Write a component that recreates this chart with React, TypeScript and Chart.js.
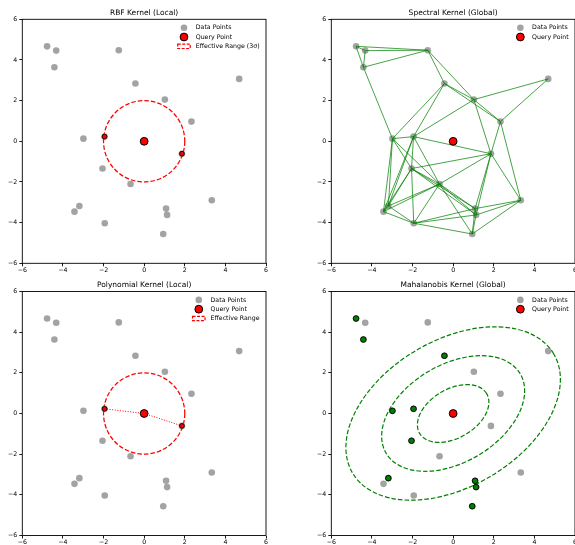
import React, { useEffect, useRef } from "react";
import { Chart, registerables } from "chart.js";

Chart.register(...registerables);

const FONT = "'DejaVu Sans', sans-serif";

// ---- data ----
const pointX = [-4.78, -4.33, -4.42, -1.25, -0.43, 1.02, 4.68, 2.33, -2.99, -1.95, 1.86, -2.05, -0.67, -3.19, -3.43, -1.94, 1.08, 1.13, 0.94, 3.33];
const pointY = [4.67, 4.46, 3.64, 4.48, 2.84, 2.05, 3.07, 0.97, 0.13, 0.23, -0.61, -1.34, -2.1, -3.18, -3.46, -4.03, -3.31, -3.62, -4.56, -2.9];
const queryX = [0];
const queryY = [0];
const localNeighborIdx = [9, 10];
const effectiveRadius = 2;
const spectralEdges = [
  [0, 1], [0, 2], [0, 3], [1, 2], [1, 3], [2, 3], [2, 8], [3, 4], [3, 5],
  [4, 5], [4, 7], [4, 8], [4, 9], [5, 6], [5, 7], [5, 9], [5, 10], [6, 7],
  [7, 10], [7, 19], [8, 9], [8, 11], [8, 12], [8, 13], [8, 14], [9, 10],
  [9, 11], [9, 12], [9, 13], [9, 14], [10, 11], [10, 12], [10, 16], [10, 17],
  [10, 19], [11, 12], [11, 13], [11, 14], [11, 15], [11, 16], [11, 17],
  [12, 13], [12, 14], [12, 15], [12, 16], [12, 17], [12, 18], [13, 14],
  [13, 15], [14, 15], [15, 16], [15, 17], [15, 18], [16, 17], [16, 18],
  [16, 19], [17, 18], [17, 19], [18, 19],
];
const mahalanobisIdx = [0, 2, 4, 8, 9, 11, 13, 16, 17, 18];
const mahalanobisLevels = [1, 2, 3];
const mahalanobisSemiAxes = [1.918, 1.2];
const mahalanobisAngleDeg = 30.6;
const axisTicks = [-6, -4, -2, 0, 2, 4, 6];
const panelTitles = [
  "RBF Kernel (Local)",
  "Spectral Kernel (Global)",
  "Polynomial Kernel (Local)",
  "Mahalanobis Kernel (Global)",
];
const labelData = "Data Points";
const labelQuery = "Query Point";
const labelRangeSigma = "Effective Range (3σ)";
const labelRange = "Effective Range";

// ---- styles ----
const GRAY = "rgba(128,128,128,0.72)";
const RED = "#ff0000";
const GREEN = "#008000";
const EDGE = "rgba(0,128,0,0.72)";

const allPts = () => pointX.map((x, i) => ({ x, y: pointY[i] }));
const pickPts = (idx: number[]) => idx.map((i) => ({ x: pointX[i], y: pointY[i] }));
const queryPts = () => queryX.map((x, i) => ({ x, y: queryY[i] }));

const grayDS = () => ({ data: allPts(), backgroundColor: GRAY, borderWidth: 0, pointRadius: 3.3, order: 10 });
const queryDS = () => ({ data: queryPts(), backgroundColor: RED, borderColor: "#000", borderWidth: 1, pointRadius: 3.9, order: 0 });
const neighborDS = () => ({ data: pickPts(localNeighborIdx), backgroundColor: RED, borderColor: "#000", borderWidth: 0.9, pointRadius: 2.4, order: 1 });

const edgeDS = () =>
  spectralEdges.map(([i, j]) => ({
    data: [{ x: pointX[i], y: pointY[i] }, { x: pointX[j], y: pointY[j] }],
    showLine: true,
    borderColor: EDGE,
    borderWidth: 1,
    pointRadius: 0,
    order: 5,
  }));

const dottedDS = () =>
  localNeighborIdx.map((i) => ({
    data: [{ x: queryX[0], y: queryY[0] }, { x: pointX[i], y: pointY[i] }],
    showLine: true,
    borderColor: RED,
    borderWidth: 1,
    borderDash: [1, 1.6],
    pointRadius: 0,
    order: 2,
  }));

const greenDS = () => ({ data: pickPts(mahalanobisIdx), backgroundColor: GREEN, borderColor: "#000", borderWidth: 0.9, pointRadius: 2.8, order: 1 });

const decorPlugin = {
  id: "decor",
  beforeDatasetsDraw(chart: any, _args: any, opts: any) {
    const { ctx, chartArea: a } = chart;
    const x = chart.scales.x, y = chart.scales.y;
    const sx = x.getPixelForValue(1) - x.getPixelForValue(0);
    const sy = y.getPixelForValue(0) - y.getPixelForValue(1);
    const cx = x.getPixelForValue(queryX[0]);
    const cy = y.getPixelForValue(queryY[0]);
    ctx.save();
    ctx.beginPath();
    ctx.rect(a.left, a.top, a.right - a.left, a.bottom - a.top);
    ctx.clip();
    if (opts.circle) {
      ctx.beginPath();
      ctx.ellipse(cx, cy, opts.circle * sx, opts.circle * sy, 0, 0, Math.PI * 2);
      ctx.setLineDash([4.6, 2]);
      ctx.lineWidth = 1.25;
      ctx.strokeStyle = RED;
      ctx.stroke();
    }
    if (opts.ellipses) {
      const th = (mahalanobisAngleDeg * Math.PI) / 180;
      for (const k of mahalanobisLevels) {
        ctx.save();
        ctx.translate(cx, cy);
        ctx.scale(sx, -sy);
        ctx.beginPath();
        ctx.ellipse(0, 0, k * mahalanobisSemiAxes[0], k * mahalanobisSemiAxes[1], th, 0, Math.PI * 2);
        ctx.restore();
        ctx.setLineDash([4.6, 2]);
        ctx.lineWidth = 1.2;
        ctx.strokeStyle = GREEN;
        ctx.stroke();
      }
    }
    ctx.restore();
  },
  afterDraw(chart: any, _args: any, opts: any) {
    const { ctx, chartArea: a } = chart;
    ctx.save();
    ctx.setLineDash([]);
    ctx.strokeStyle = "#000";
    ctx.lineWidth = 0.9;
    ctx.strokeRect(a.left, a.top, a.right - a.left, a.bottom - a.top);

    const entries = opts.legend || [];
    ctx.font = `6.25px ${FONT}`;
    let maxW = 0;
    for (const e of entries) maxW = Math.max(maxW, ctx.measureText(e.label).width);
    const textX = a.right - 6.4 - maxW;
    const hR = textX - 5.5;
    const hL = hR - 12.5;
    const hx = (hL + hR) / 2;
    entries.forEach((e: any, i: number) => {
      const yy = a.top + 8.4 + i * 9.3;
      if (e.kind === "gray") {
        ctx.beginPath();
        ctx.arc(hx, yy, 3.3, 0, Math.PI * 2);
        ctx.fillStyle = GRAY;
        ctx.fill();
      } else if (e.kind === "query") {
        ctx.beginPath();
        ctx.arc(hx, yy, 3.9, 0, Math.PI * 2);
        ctx.fillStyle = RED;
        ctx.fill();
        ctx.lineWidth = 1;
        ctx.strokeStyle = "#000";
        ctx.stroke();
      } else if (e.kind === "patch") {
        ctx.fillStyle = "#fff";
        ctx.fillRect(hL, yy - 2.2, 12.5, 4.4);
        ctx.setLineDash([3, 1.5]);
        ctx.lineWidth = 1.2;
        ctx.strokeStyle = RED;
        ctx.strokeRect(hL, yy - 2.2, 12.5, 4.4);
        ctx.setLineDash([]);
      }
      ctx.fillStyle = "#000";
      ctx.textAlign = "left";
      ctx.textBaseline = "middle";
      ctx.fillText(e.label, textX, yy);
    });
    ctx.restore();
  },
};

const tickFmt = (v: any) => (Number(v) < 0 ? "\u2212" + Math.abs(Number(v)) : String(v));

type PanelProps = {
  L: number;
  T: number;
  title: string;
  datasets: any[];
  legend: { kind: string; label: string }[];
  circle?: number;
  ellipses?: boolean;
};

const AW = 243.7;
const AH = 244;

function Panel(p: PanelProps) {
  const ref = useRef<HTMLCanvasElement | null>(null);
  const cl = Math.round(p.L) - 24;
  const ct = Math.round(p.T) - 20;
  const yW = p.L - cl;
  const tH = p.T - ct;
  const cw = Math.ceil(yW + AW + 12);
  const ch = Math.ceil(tH + AH + 14);
  const padR = cw - yW - AW;
  const xH = ch - tH - AH;

  useEffect(() => {
    if (!ref.current) return;
    const axisCommon = (isX: boolean) => ({
      type: "linear",
      min: axisTicks[0],
      max: axisTicks[axisTicks.length - 1],
      afterBuildTicks: (s: any) => {
        s.ticks = axisTicks.map((v) => ({ value: v }));
      },
      afterFit: (s: any) => {
        if (isX) s.height = xH;
        else s.width = yW;
      },
      ticks: {
        callback: tickFmt,
        font: { family: FONT, size: 6.25 },
        color: "#000",
        padding: isX ? 0.5 : 2,
        maxRotation: 0,
        autoSkip: false,
      },
      grid: { display: true, drawOnChartArea: false, drawTicks: true, tickLength: 3, color: "#000", lineWidth: 0.9 },
      border: { display: false },
    });
    const chart = new Chart(ref.current, {
      type: "scatter",
      data: { datasets: p.datasets },
      options: {
        responsive: false,
        animation: false,
        events: [],
        devicePixelRatio: 1,
        layout: { padding: { left: 0, right: padR, top: 0, bottom: 0 } },
        scales: { x: axisCommon(true) as any, y: axisCommon(false) as any },
        plugins: {
          legend: { display: false },
          tooltip: { enabled: false },
          title: {
            display: true,
            text: p.title,
            fullSize: false,
            color: "#000",
            font: { family: FONT, size: 7.5, weight: "normal", lineHeight: 1.2 },
            padding: { top: tH - 10.8, bottom: 1.8 },
          },
          decor: { legend: p.legend, circle: p.circle, ellipses: p.ellipses },
        } as any,
      },
      plugins: [decorPlugin as any],
    } as any);
    return () => chart.destroy();
  }, []);

  return (
    <canvas
      ref={ref}
      width={cw}
      height={ch}
      style={{ position: "absolute", left: cl, top: ct, width: cw, height: ch }}
    />
  );
}

export default function App() {
  const panels: PanelProps[] = [
    {
      L: 22.3,
      T: 19.3,
      title: panelTitles[0],
      datasets: [queryDS(), neighborDS(), grayDS()],
      legend: [
        { kind: "gray", label: labelData },
        { kind: "query", label: labelQuery },
        { kind: "patch", label: labelRangeSigma },
      ],
      circle: effectiveRadius,
    },
    {
      L: 331.3,
      T: 19.3,
      title: panelTitles[1],
      datasets: [queryDS(), ...edgeDS(), grayDS()],
      legend: [
        { kind: "gray", label: labelData },
        { kind: "query", label: labelQuery },
      ],
    },
    {
      L: 22.3,
      T: 291.5,
      title: panelTitles[2],
      datasets: [queryDS(), neighborDS(), ...dottedDS(), grayDS()],
      legend: [
        { kind: "gray", label: labelData },
        { kind: "query", label: labelQuery },
        { kind: "patch", label: labelRange },
      ],
      circle: effectiveRadius,
    },
    {
      L: 331.3,
      T: 291.5,
      title: panelTitles[3],
      datasets: [queryDS(), greenDS(), grayDS()],
      legend: [
        { kind: "gray", label: labelData },
        { kind: "query", label: labelQuery },
      ],
      ellipses: true,
    },
  ];
  return (
    <div
      style={{
        position: "fixed",
        left: 0,
        top: 0,
        width: 575,
        height: 545,
        overflow: "hidden",
        background: "#fff",
      }}
    >
      {panels.map((p, i) => (
        <Panel key={i} {...p} />
      ))}
    </div>
  );
}
